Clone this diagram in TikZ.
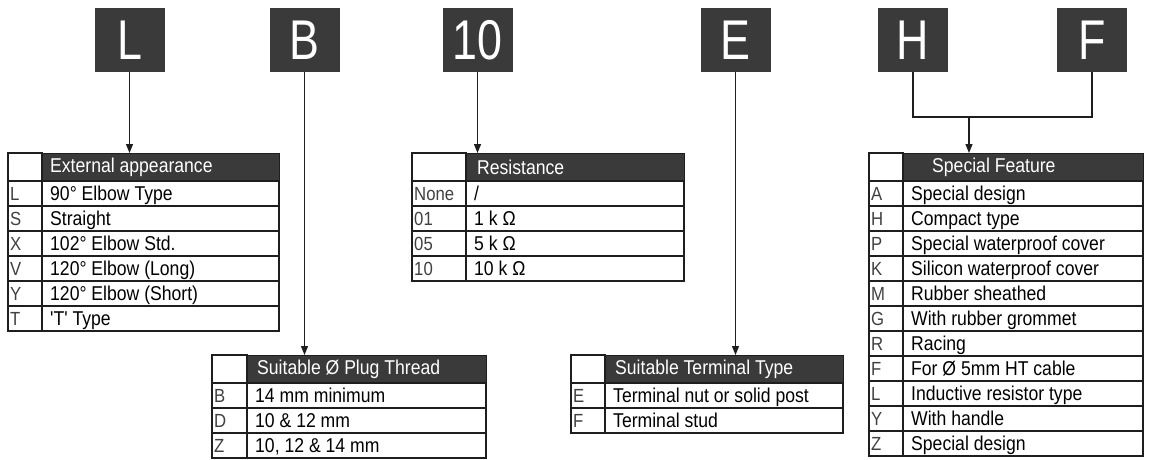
\documentclass[tikz,border=0pt]{standalone}
\usepackage{fontspec}
\setmainfont{Liberation Sans}
\newfontfamily\boxfont{Liberation Sans}[FakeStretch=0.8]
\newfontfamily\cellfont{Liberation Sans}[FakeStretch=0.88]
\usetikzlibrary{arrows.meta}
\definecolor{boxgray}{HTML}{3A3A3A}
\definecolor{linegray}{HTML}{1E1E1E}
\tikzset{
  codebox/.style={fill=boxgray, minimum width=70pt, minimum height=64pt, inner sep=0pt,
    text=white, font=\boxfont\fontsize{56}{56}\selectfont},
  hdrcell/.style={fill=boxgray, draw=linegray, line width=1.2pt, inner sep=0pt, anchor=north west},
  hdrtext/.style={text=white, anchor=west, inner sep=0pt, font=\cellfont\fontsize{20}{22}\selectfont},
  celltext/.style={anchor=base west, inner sep=0pt, font=\cellfont\fontsize{20}{22}\selectfont, text=black},
  codetext/.style={anchor=base west, inner sep=0pt, font=\cellfont\fontsize{19}{22}\selectfont, text=black!75},
  grid/.style={draw=linegray, line width=1.2pt},
  arr/.style={draw=linegray, line width=1.2pt, -{Triangle[length=9pt,width=7pt]}},
  link/.style={draw=linegray, line width=1.2pt},
}
% #1 name, #2 left, #3 divider, #4 right, #5 top, #6 header offset, #7 header, #8 rows
\newcommand\spectab[8]{%
  \draw[grid] (#2,#5) rectangle (#3,#5+28);
  \node[hdrcell, minimum width={#4-#3}, minimum height=28pt] (#1) at (#3,#5) {};
  \node[hdrtext] at ([xshift=#6pt]#1.west) {#7};
  \foreach [count=\i] \c/\t in {#8} {
    \draw[grid] (#2,#5+3+\i*25) rectangle (#4,#5+28+\i*25);
    \draw[grid] (#3,#5+3+\i*25) -- (#3,#5+28+\i*25);
    \node[codetext] at (#2+2,#5+22.5+\i*25) {\c};
    \node[celltext] at (#3+8,#5+22.5+\i*25) {\t};
  }
}
\begin{document}
\begin{tikzpicture}[x=1pt,y=-1pt]
\useasboundingbox (0,0) rectangle (1173,459);
\fill[white] (0,0) rectangle (1173,459);

% top code boxes
\node[codebox] (bL) at (129.5,40) {L};
\node[codebox] (bB) at (304.5,40) {B};
\node[codebox] (b10) at (477.5,40) {10};
\node[codebox] (bE) at (735.5,40) {E};
\node[codebox] (bH) at (913,40) {H};
\node[codebox] (bF) at (1092,40) {F};

% tables
\spectab{tL}{8}{42}{279}{153}{8}{External appearance}{L/90° Elbow Type, S/Straight, X/102° Elbow Std., V/120° Elbow (Long), Y/120° Elbow (Short), T/'T' Type}
\spectab{tR}{412}{466}{684}{153}{11}{Resistance}{None/{/}, 01/1 k Ω, 05/5 k Ω, 10/10 k Ω}
\spectab{tB}{212}{247}{486}{355}{10}{Suitable Ø Plug Thread}{B/14 mm minimum, D/10 \& 12 mm, Z/{10, 12 \& 14 mm}}
\spectab{tE}{571}{605}{843}{355}{10}{Suitable Terminal Type}{E/Terminal nut or solid post, F/Terminal stud}
\spectab{tS}{869}{903}{1143}{153}{29}{Special Feature}{A/Special design, H/Compact type, P/Special waterproof cover, K/Silicon waterproof cover, M/Rubber sheathed, G/With rubber grommet, R/Racing, F/For Ø 5mm HT cable, L/Inductive resistor type, Y/With handle, Z/Special design}

% connectors
\draw[arr] (bL.south) -- (bL.south |- tL.north);
\draw[arr] (bB.south) -- (bB.south |- tB.north);
\draw[arr] (b10.south) -- (b10.south |- tR.north);
\draw[arr] (bE.south) -- (bE.south |- tE.north);
\coordinate (join) at (969,117);
\draw[link] (bH.south) |- (join) -| (bF.south);
\draw[arr] (join) -- (join |- tS.north);
\end{tikzpicture}
\end{document}
